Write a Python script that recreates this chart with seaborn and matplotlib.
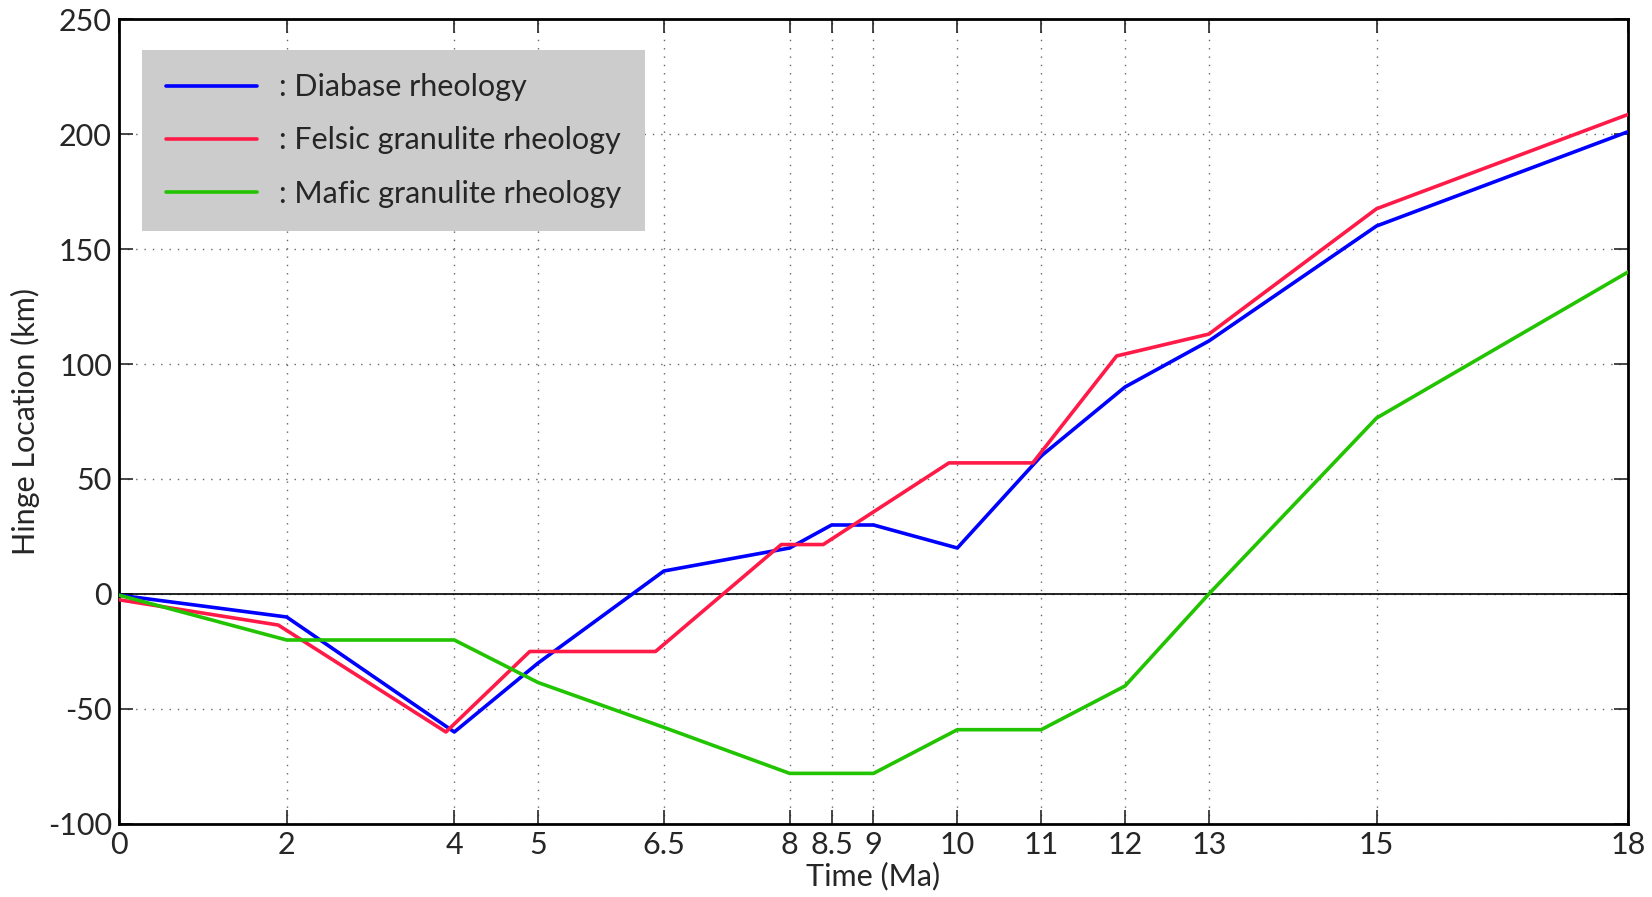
import pandas as pd
import matplotlib.pyplot as plt
import seaborn as sns

# Hinge location through time for the three rheologies
diabase_t = [0, 2, 4, 5, 6.5, 8, 8.5, 9, 10, 11, 12, 13, 15, 18]
diabase_km = [-0.5, -10, -60, -30, 10, 20, 30, 30, 20, 60, 90, 110, 160, 201]

felsic_t = [0, 1.9, 3.9, 4.9, 6.4, 7.9, 8.4, 9.9, 10.9, 11.9, 13, 15, 18]
felsic_km = [-2.5, -13.5, -60, -25, -25, 21.5, 21.5, 57, 57, 103.5, 113, 167.5, 208.5]

mafic_t = [0, 2, 4, 5, 6.5, 8, 9, 10, 11, 12, 13, 15, 18]
mafic_km = [-0.5, -20, -20, -38.5, -58, -78, -78, -59, -59, -40, 0, 76.5, 140]

labels = [': Diabase rheology', ': Felsic granulite rheology', ': Mafic granulite rheology']
colors = ['#0000ff', '#ff1a48', '#22c400']
x_ticks = [0, 2, 4, 5, 6.5, 8, 8.5, 9, 10, 11, 12, 13, 15, 18]
x_ticklabels = ['0', '2', '4', '5', '6.5', '8', '8.5', '9', '10', '11', '12', '13', '15', '18']

df = pd.concat([
    pd.DataFrame({'t': diabase_t, 'km': diabase_km, 'model': labels[0]}),
    pd.DataFrame({'t': felsic_t, 'km': felsic_km, 'model': labels[1]}),
    pd.DataFrame({'t': mafic_t, 'km': mafic_km, 'model': labels[2]}),
])

sns.set_style('ticks')
plt.rcParams['font.family'] = ['Lato', 'DejaVu Sans']
plt.rcParams['axes.unicode_minus'] = False

fig = plt.figure(figsize=(16.52, 8.97), dpi=100)
ax = fig.add_axes([0.072, 0.0814, 0.9135, 0.8974])

ax.grid(True, linestyle=(0, (1, 5)), color='#666666', linewidth=1.0)
ax.axhline(0, color='black', linewidth=1.2, zorder=1)

sns.lineplot(data=df, x='t', y='km', hue='model', palette=colors,
             estimator=None, sort=False, linewidth=2.6, ax=ax, zorder=3)

ax.set_xlim(0, 18)
ax.set_ylim(-100, 250)
ax.set_xticks(x_ticks)
ax.set_xticklabels(x_ticklabels)
ax.set_yticks(range(-100, 251, 50))
ax.tick_params(direction='in', length=10, width=1.2, labelsize=22,
               top=True, right=True, pad=5)
for s in ax.spines.values():
    s.set_linewidth(2)
    s.set_color('black')

ax.set_xlabel('Time (Ma)', fontsize=22, labelpad=2)
ax.set_ylabel('Hinge Location (km)', fontsize=22, labelpad=6)

leg = ax.legend(loc='upper left', bbox_to_anchor=(0.0152, 0.962), borderaxespad=0,
                fontsize=22, frameon=True, fancybox=False, facecolor='#cccccc',
                edgecolor='none', framealpha=1, handlelength=3.0, handletextpad=0.7,
                labelspacing=0.82, borderpad=0.78)
for line in leg.get_lines():
    line.set_linewidth(2.6)

plt.savefig('out.png', dpi=100)
